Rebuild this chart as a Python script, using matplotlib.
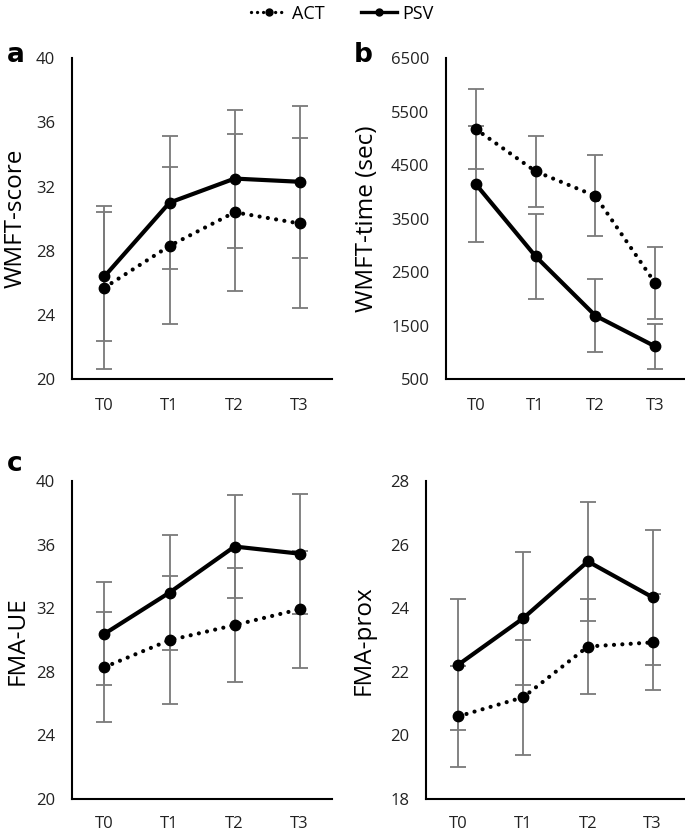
import numpy as np
import matplotlib.pyplot as plt
from matplotlib.lines import Line2D

plt.rcParams["font.family"] = ["Open Sans", "DejaVu Sans"]

# time points
times = ["T0", "T1", "T2", "T3"]

# a: WMFT-score
wmft_score_act = [25.7, 28.3, 30.4, 29.7]
wmft_score_act_sd = [5.1, 4.9, 4.9, 5.3]
wmft_score_psv = [26.4, 31.0, 32.5, 32.3]
wmft_score_psv_sd = [4.0, 4.15, 4.3, 4.75]

# b: WMFT-time (sec)
wmft_time_act = [5175, 4385, 3925, 2295]
wmft_time_act_sd = [748, 665, 757, 676]
wmft_time_psv = [4145, 2795, 1685, 1110]
wmft_time_psv_sd = [1084, 798, 678, 424]

# c: FMA-UE
fma_ue_act = [28.3, 30.0, 30.95, 31.95]
fma_ue_act_sd = [3.47, 4.02, 3.6, 3.69]
fma_ue_psv = [30.4, 33.0, 35.9, 35.45]
fma_ue_psv_sd = [3.24, 3.61, 3.27, 3.77]

# d: FMA-prox
fma_prox_act = [20.6, 21.2, 22.8, 22.93]
fma_prox_act_sd = [1.6, 1.82, 1.49, 1.51]
fma_prox_psv = [22.23, 23.69, 25.48, 24.35]
fma_prox_psv_sd = [2.07, 2.1, 1.88, 2.12]

ERR_COLOR = "#7a7a7a"
DOTTED = (0, (0.01, 2.0))


def panel(ax, act, act_sd, psv, psv_sd, ylabel, yticks, label_x, xpad):
    x = np.arange(len(times))
    for y, sd in ((act, act_sd), (psv, psv_sd)):
        ax.errorbar(x, y, yerr=sd, fmt="none", ecolor=ERR_COLOR,
                    elinewidth=1.3, capsize=5.5, capthick=1.3, zorder=1)
    ax.plot(x, act, color="black", linestyle=DOTTED, linewidth=3.0,
            dash_capstyle="round", marker="o", markersize=7.5, zorder=3)
    ax.plot(x, psv, color="black", linestyle="-", linewidth=3.0,
            marker="o", markersize=7.5, zorder=3)
    ax.set_xlim(-0.5, 3.5)
    ax.set_ylim(yticks[0], yticks[-1])
    ax.set_yticks(yticks)
    ax.set_xticks(x)
    ax.set_xticklabels(times)
    ax.tick_params(length=0, labelsize=12, colors="#222222")
    ax.tick_params(axis="y", pad=12)
    ax.tick_params(axis="x", pad=xpad)
    for s in ("top", "right"):
        ax.spines[s].set_visible(False)
    for s in ("left", "bottom"):
        ax.spines[s].set_linewidth(1.5)
    ax.set_ylabel(ylabel, fontsize=17.5)
    ax.yaxis.set_label_coords(label_x, 0.5)
    ax.yaxis.label.set_verticalalignment("center")


fig = plt.figure(figsize=(6.85, 8.33), dpi=100)
ax_a = fig.add_axes([0.105, 0.545, 0.380, 0.385])
ax_b = fig.add_axes([0.651, 0.545, 0.349, 0.385])
ax_c = fig.add_axes([0.105, 0.041, 0.380, 0.381])
ax_d = fig.add_axes([0.622, 0.041, 0.378, 0.381])

panel(ax_a, wmft_score_act, wmft_score_act_sd, wmft_score_psv, wmft_score_psv_sd,
      "WMFT-score", [20, 24, 28, 32, 36, 40], -0.218, 14)
panel(ax_b, wmft_time_act, wmft_time_act_sd, wmft_time_psv, wmft_time_psv_sd,
      "WMFT-time (sec)", [500, 1500, 2500, 3500, 4500, 5500, 6500], -0.33, 14)
panel(ax_c, fma_ue_act, fma_ue_act_sd, fma_ue_psv, fma_ue_psv_sd,
      "FMA-UE", [20, 24, 28, 32, 36, 40], -0.208, 12.5)
panel(ax_d, fma_prox_act, fma_prox_act_sd, fma_prox_psv, fma_prox_psv_sd,
      "FMA-prox", [18, 20, 22, 24, 26, 28], -0.24, 12.5)

fig.text(0.010, 0.926, "a", fontsize=19, weight="bold", family="DejaVu Sans",
         va="baseline")
fig.text(0.516, 0.926, "b", fontsize=19, weight="bold", family="DejaVu Sans",
         va="baseline")
fig.text(0.010, 0.434, "c", fontsize=19, weight="bold", family="DejaVu Sans",
         va="baseline")

handles = [
    Line2D([], [], color="black", linestyle=(0, (0.01, 1.8)), linewidth=2.4,
           dash_capstyle="round", marker="o", markersize=5),
    Line2D([], [], color="black", linestyle="-", linewidth=2.4,
           marker="o", markersize=5),
]
fig.legend(handles, ["ACT", "PSV"], loc="upper center", ncol=2,
           bbox_to_anchor=(0.5, 1.014), frameon=False, fontsize=13,
           handlelength=2.0, handletextpad=0.3, columnspacing=2.0)

fig.savefig("out.png", dpi=100, facecolor="white")
